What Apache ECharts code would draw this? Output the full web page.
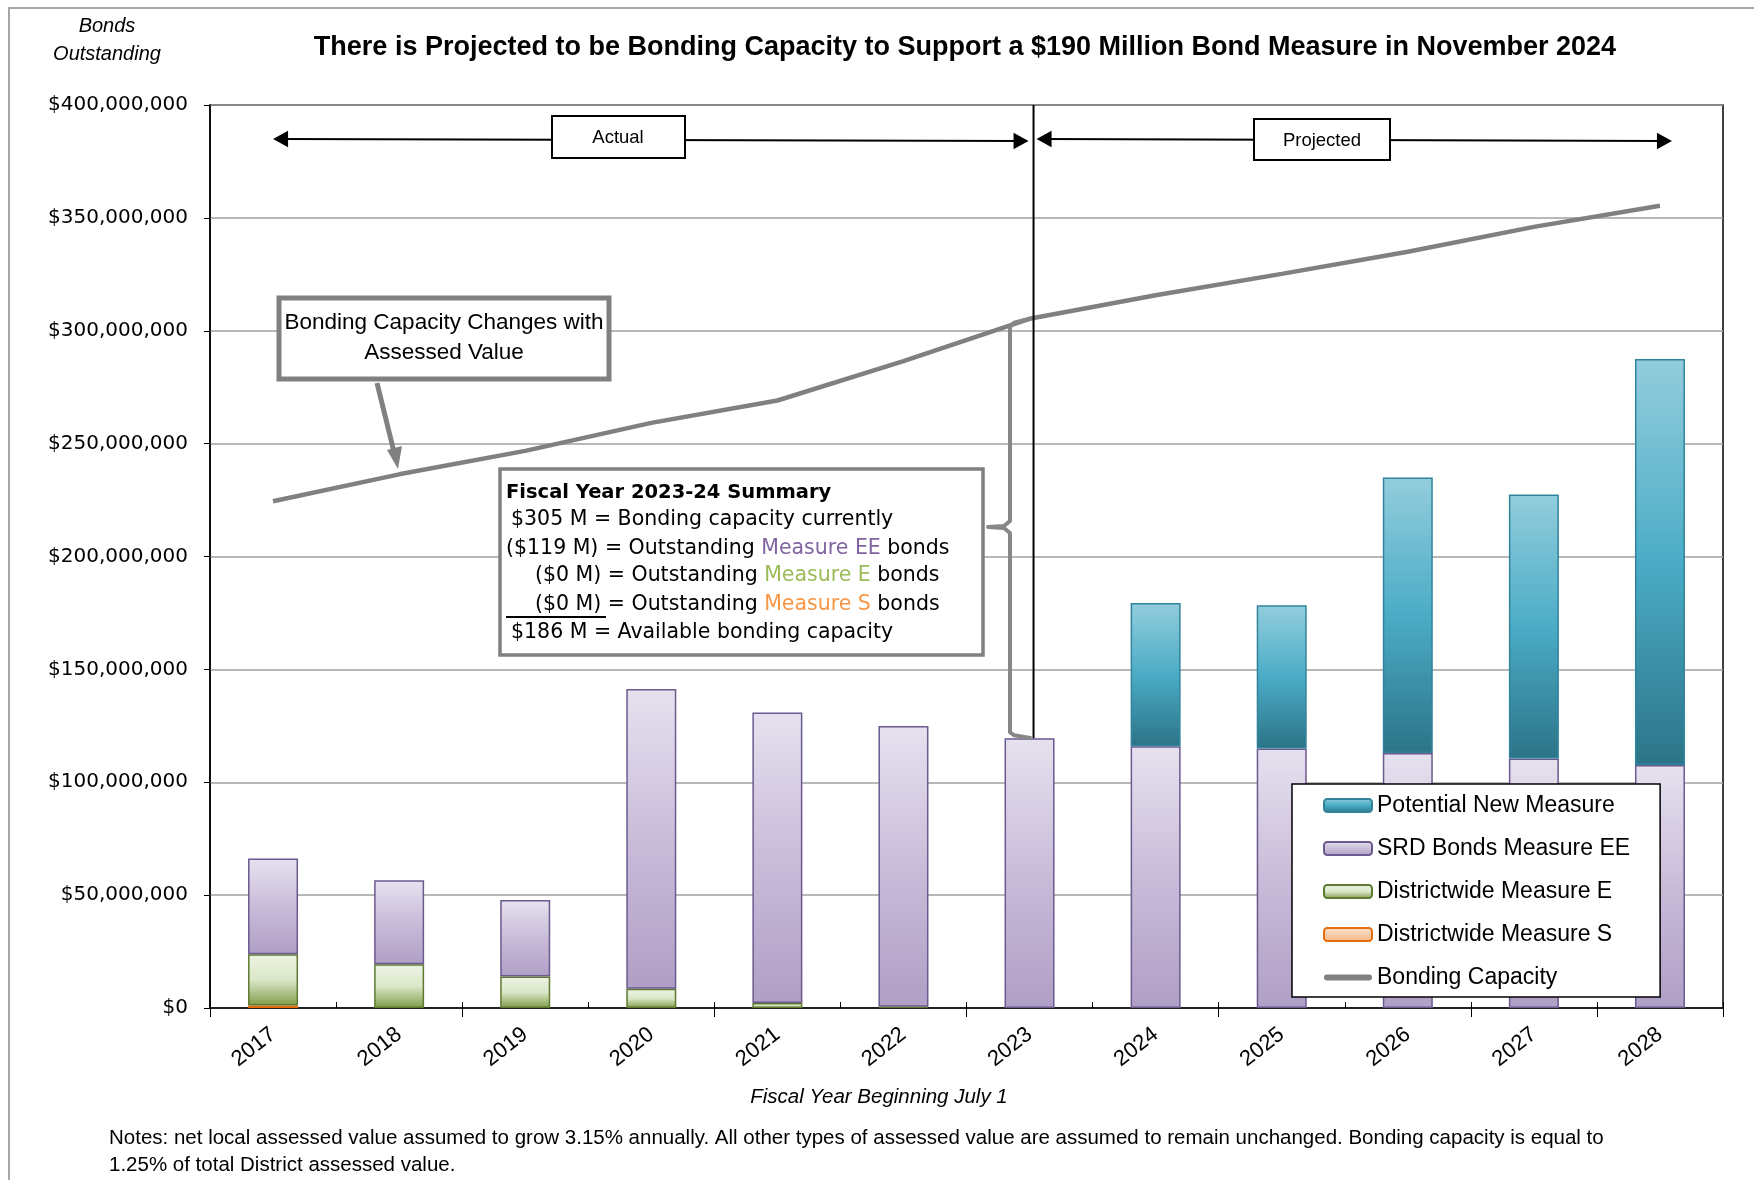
<!DOCTYPE html>
<html>
<head>
<meta charset="utf-8">
<script src="https://cdn.jsdelivr.net/npm/echarts@6/dist/echarts.min.js"></script>
<style>
html,body{margin:0;padding:0;background:#fff;}
#chart{width:1754px;height:1180px;}
</style>
</head>
<body>
<div id="chart"></div>
<script>
// ---- Data (values in dollars) ----
const years = ['2017','2018','2019','2020','2021','2022','2023','2024','2025','2026','2027','2028'];
const M = 1e6;
const measureS  = [1.1, 0, 0, 0, 0, 0, 0, 0, 0, 0, 0, 0].map(v => v * M);
const measureE  = [22.7, 19.4, 13.9, 8.5, 2.2, 0.6, 0, 0, 0, 0, 0, 0].map(v => v * M);
const measureEE = [42.4, 37.2, 33.9, 132.8, 128.7, 124.3, 119.5, 116.0, 115.0, 113.0, 110.5, 107.6].map(v => v * M);
const newMeasure = [0, 0, 0, 0, 0, 0, 0, 63.4, 63.4, 122.0, 117.0, 179.9].map(v => v * M);
const bondingCapacity = [224.5, 236.4, 246.8, 259.2, 269.1, 286.5, 305.3, 315.7, 325.2, 335.0, 346.0, 355.4].map(v => v * M);
const yTicks = { min: 0, max: 400 * M, interval: 50 * M };

const FONT = 'Liberation Sans';
const WIDE = 'DejaVu Sans';
const chart = echarts.init(document.getElementById('chart'), null, { renderer: 'canvas' });

function grad(stops) {
  return new echarts.graphic.LinearGradient(0, 0, 0, 1, stops.map((c, i) => ({ offset: i / (stops.length - 1), color: c })));
}
const nz = arr => arr.map(v => (v === 0 ? null : v));

const option = {
  backgroundColor: '#ffffff',
  animation: false,
  textStyle: { fontFamily: FONT },
  grid: { left: 210, right: 31, top: 105, bottom: 172, show: true, borderColor: '#000', borderWidth: 1.5, backgroundColor: 'transparent' },
  legend: {
    orient: 'vertical',
    left: 1292, top: 784,
    padding: [10, 30, 8, 31],
    itemWidth: 48, itemHeight: 13, itemGap: 20,
    backgroundColor: '#fff', borderColor: '#000', borderWidth: 1.5,
    textStyle: { fontFamily: FONT, fontSize: 23, color: '#000', lineHeight: 22 },
    data: [
      'Potential New Measure', 'SRD Bonds Measure EE', 'Districtwide Measure E', 'Districtwide Measure S',
      { name: 'Bonding Capacity', icon: 'path://M6,0 H94 A6,6 0 0 1 94,12 H6 A6,6 0 0 1 6,0 Z', itemStyle: { color: '#808080' } }
    ]
  },
  xAxis: [
    {
      type: 'category', data: years,
      axisLine: { lineStyle: { color: '#000', width: 1.5 } },
      axisTick: { show: true, length: 9, interval: 1, lineStyle: { color: '#000', width: 1 } },
      axisLabel: { rotate: 38, fontSize: 22, color: '#000', margin: 24, fontFamily: FONT, interval: 0 },
      splitLine: { show: false }
    },
    {
      type: 'category', data: years, position: 'bottom',
      axisLine: { show: false },
      axisTick: { show: true, inside: true, length: 6, interval: 0, lineStyle: { color: '#000', width: 1 } },
      axisLabel: { show: false },
      splitLine: { show: false }
    }
  ],
  yAxis: {
    type: 'value', min: yTicks.min, max: yTicks.max, interval: yTicks.interval,
    axisLine: { show: true, lineStyle: { color: '#000', width: 1.5 } },
    axisTick: { show: true, length: 6, lineStyle: { color: '#000' } },
    axisLabel: {
      fontSize: 20, color: '#000', margin: 22, fontFamily: WIDE,
      formatter: v => '$' + Math.round(v).toLocaleString('en-US')
    },
    splitLine: { show: true, lineStyle: { color: '#a0a0a0', width: 1.5 } }
  },
  series: [
    {
      name: 'Districtwide Measure S', type: 'bar', stack: 'b', data: nz(measureS), barWidth: 50,
      itemStyle: { color: grad(['#fde3cf', '#f7b584']), borderColor: '#e46c0a', borderWidth: 1.5 }
    },
    {
      name: 'Districtwide Measure E', type: 'bar', stack: 'b', data: nz(measureE), barWidth: 50,
      itemStyle: { color: grad(['#edf3e4', '#dbe7c8', '#7f9d4a']), borderColor: '#5f7a30', borderWidth: 1.5 }
    },
    {
      name: 'SRD Bonds Measure EE', type: 'bar', stack: 'b', data: nz(measureEE), barWidth: 50,
      itemStyle: { color: grad(['#e6e1ef', '#c9bcd9', '#b09fc6']), borderColor: '#6b5a8e', borderWidth: 1.5 }
    },
    {
      name: 'Potential New Measure', type: 'bar', stack: 'b', data: nz(newMeasure), barWidth: 50,
      itemStyle: { color: grad(['#93cddd', '#4bacc6', '#2c7488']), borderColor: '#31849b', borderWidth: 1.5 }
    },
    {
      name: 'Bonding Capacity', type: 'line', data: bondingCapacity, symbol: 'none',
      lineStyle: { color: '#808080', width: 4.5 }, itemStyle: { color: '#808080' }, z: 5
    }
  ]
};
chart.setOption(option);

// ---- Annotations (positioned from the axes) ----
const px = (i, v) => chart.convertToPixel({ gridIndex: 0 }, [i, v]);
const xs = years.map((_, i) => px(i, 0)[0]);
const plotTop = px(0, yTicks.max)[1];
const i2023 = years.indexOf('2023');
const top2023 = measureS[i2023] + measureE[i2023] + measureEE[i2023] + newMeasure[i2023];
const bar2023Top = px(i2023, top2023)[1];
const cap2023 = px(i2023, bondingCapacity[i2023]);
const vx = xs[i2023] + 4;

function arrowHead(x, y, dir, color, size) {
  return { type: 'polygon', shape: { points: [[x, y], [x - dir * size, y - size * 0.55], [x - dir * size, y + size * 0.55]] }, style: { fill: color }, z: 20 };
}

const g = [];
g.push({ type: 'rect', shape: { x: 9, y: 8, width: 1800, height: 1250 }, style: { fill: null, stroke: '#a6a6a6', lineWidth: 2 }, z: 1 });
g.push({ type: 'text', style: { text: 'There is Projected to be Bonding Capacity to Support a $190 Million Bond Measure in November 2024', x: 965, y: 48, align: 'center', verticalAlign: 'middle', font: 'bold 27px "' + FONT + '"', fill: '#000' }, z: 20 });
g.push({ type: 'text', style: { text: 'Bonds', x: 107, y: 26, align: 'center', verticalAlign: 'middle', font: 'italic 20px "' + FONT + '"', fill: '#000' }, z: 20 });
g.push({ type: 'text', style: { text: 'Outstanding', x: 107, y: 54, align: 'center', verticalAlign: 'middle', font: 'italic 20px "' + FONT + '"', fill: '#000' }, z: 20 });
g.push({ type: 'text', style: { text: 'Fiscal Year Beginning July 1', x: 879, y: 1097, align: 'center', verticalAlign: 'middle', font: 'italic 20.5px "' + FONT + '"', fill: '#000' }, z: 20 });
g.push({ type: 'text', style: { text: 'Notes: net local assessed value assumed to grow 3.15% annually. All other types of assessed value are assumed to remain unchanged. Bonding capacity is equal to', x: 109, y: 1138, align: 'left', verticalAlign: 'middle', font: '20.5px "' + FONT + '"', fill: '#000' }, z: 20 });
g.push({ type: 'text', style: { text: '1.25% of total District assessed value.', x: 109, y: 1165, align: 'left', verticalAlign: 'middle', font: '20.5px "' + FONT + '"', fill: '#000' }, z: 20 });

// vertical divider
g.push({ type: 'line', shape: { x1: vx, y1: plotTop, x2: vx, y2: bar2023Top }, style: { stroke: '#000', lineWidth: 2 }, z: 15 });

// Actual arrow
const arrowY = 139;
g.push({ type: 'line', shape: { x1: xs[0] + 10, y1: arrowY, x2: vx - 14, y2: arrowY + 2 }, style: { stroke: '#000', lineWidth: 2 }, z: 18 });
g.push(arrowHead(xs[0], arrowY, -1, '#000', 15));
g.push(arrowHead(vx - 5, arrowY + 2, 1, '#000', 15));
g.push({ type: 'rect', shape: { x: 552, y: 116, width: 133, height: 42 }, style: { fill: '#fff', stroke: '#000', lineWidth: 2 }, z: 19 });
g.push({ type: 'text', style: { text: 'Actual', x: 618, y: 138, align: 'center', verticalAlign: 'middle', font: '18.5px "' + FONT + '"', fill: '#000' }, z: 21 });
// Projected arrow
g.push({ type: 'line', shape: { x1: vx + 10, y1: arrowY, x2: xs[11] + 2, y2: arrowY + 2 }, style: { stroke: '#000', lineWidth: 2 }, z: 18 });
g.push(arrowHead(vx + 3, arrowY, -1, '#000', 15));
g.push(arrowHead(xs[11] + 12, arrowY + 2, 1, '#000', 15));
g.push({ type: 'rect', shape: { x: 1254, y: 119, width: 136, height: 41 }, style: { fill: '#fff', stroke: '#000', lineWidth: 2 }, z: 19 });
g.push({ type: 'text', style: { text: 'Projected', x: 1322, y: 141, align: 'center', verticalAlign: 'middle', font: '18.5px "' + FONT + '"', fill: '#000' }, z: 21 });

// Bonding capacity callout
g.push({ type: 'rect', shape: { x: 279, y: 298, width: 330, height: 81 }, style: { fill: '#fff', stroke: '#808080', lineWidth: 5 }, z: 19 });
g.push({ type: 'text', style: { text: 'Bonding Capacity Changes with', x: 444, y: 323, align: 'center', verticalAlign: 'middle', font: '22.5px "' + FONT + '"', fill: '#000' }, z: 21 });
g.push({ type: 'text', style: { text: 'Assessed Value', x: 444, y: 353, align: 'center', verticalAlign: 'middle', font: '22.5px "' + FONT + '"', fill: '#000' }, z: 21 });
g.push({ type: 'line', shape: { x1: 377, y1: 383, x2: 394, y2: 452 }, style: { stroke: '#808080', lineWidth: 5 }, z: 18 });
g.push({ type: 'polygon', shape: { points: [[398, 469], [387, 450], [402, 446]] }, style: { fill: '#808080' }, z: 18 });

// Summary box
g.push({ type: 'rect', shape: { x: 500, y: 469, width: 483, height: 186 }, style: { fill: '#fff', stroke: '#808080', lineWidth: 3.5 }, z: 19 });
const sf = '20.5px "' + WIDE + '"';
g.push({ type: 'text', style: { text: 'Fiscal Year 2023-24 Summary', x: 506, y: 493, verticalAlign: 'middle', font: 'bold 19.5px "' + WIDE + '"', fill: '#000' }, z: 21 });
g.push({ type: 'text', style: { text: '$305 M = Bonding capacity currently', x: 511, y: 520, verticalAlign: 'middle', font: sf, fill: '#000' }, z: 21 });
g.push({ type: 'text', style: { text: '($119 M) = Outstanding {ee|Measure EE} bonds', x: 506, y: 549, verticalAlign: 'middle', font: sf, fill: '#000', rich: { ee: { fill: '#8064a2', font: sf } } }, z: 21 });
g.push({ type: 'text', style: { text: '($0 M) = Outstanding {e|Measure E} bonds', x: 535, y: 576, verticalAlign: 'middle', font: sf, fill: '#000', rich: { e: { fill: '#9bbb59', font: sf } } }, z: 21 });
g.push({ type: 'text', style: { text: '($0 M) = Outstanding {s|Measure S} bonds', x: 535, y: 605, verticalAlign: 'middle', font: sf, fill: '#000', rich: { s: { fill: '#f79646', font: sf } } }, z: 21 });
g.push({ type: 'line', shape: { x1: 506, y1: 617, x2: 606, y2: 617 }, style: { stroke: '#000', lineWidth: 2 }, z: 21 });
g.push({ type: 'text', style: { text: '$186 M = Available bonding capacity', x: 511, y: 633, verticalAlign: 'middle', font: sf, fill: '#000' }, z: 21 });

// Brace from capacity (2023) to outstanding bar top (2023)
const bx = 1010, nubY = 527;
g.push({ type: 'polyline', shape: { points: [
  [cap2023[0], cap2023[1]], [bx + 4, cap2023[1] + 4], [bx, cap2023[1] + 8], [bx, nubY - 6], [bx - 6, nubY - 1], [988, nubY],
  [bx - 6, nubY + 1], [bx, nubY + 6], [bx, bar2023Top - 6], [bx + 4, bar2023Top - 3], [vx - 2, bar2023Top]
] }, style: { stroke: '#878787', lineWidth: 4, fill: null, lineJoin: 'round' }, z: 16 });

chart.setOption({ graphic: g });
</script>
</body>
</html>
